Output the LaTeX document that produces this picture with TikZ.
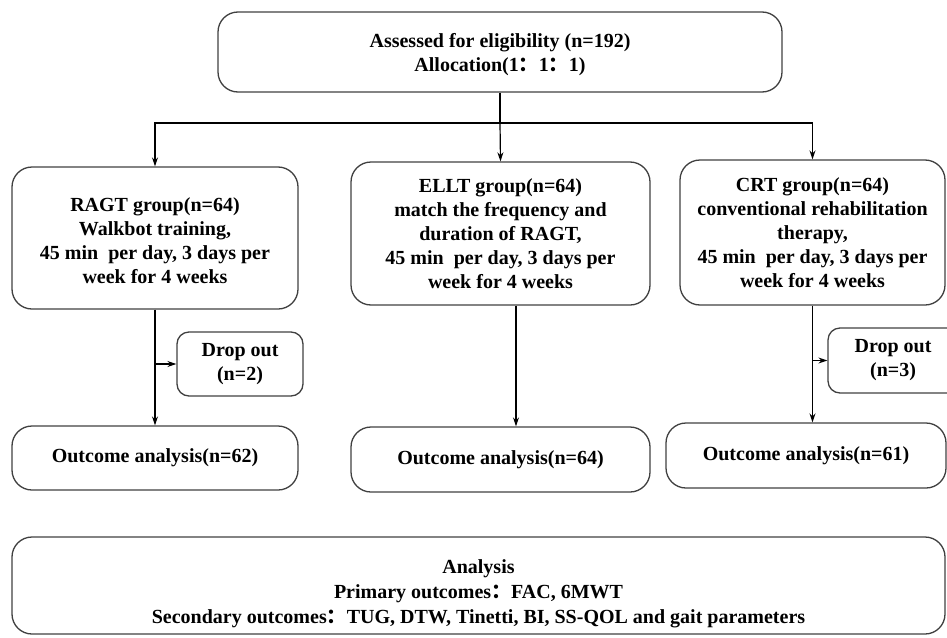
\documentclass[tikz,border=0pt]{standalone}
\usepackage{fontspec}
\setmainfont{Liberation Serif}
\newfontfamily\cjk{Noto Sans CJK SC}
\usetikzlibrary{positioning,arrows.meta}

\begin{document}
\begin{tikzpicture}[x=1pt,y=-1pt,
        box/.style={draw=black!75, line width=1.3pt, rounded corners=20pt, align=center, inner sep=0pt,
            font=\fontsize{20}{24}\selectfont\bfseries},
        dropbox/.style={box, rounded corners=12pt},
        arr/.style={-{Stealth[length=9pt,width=6pt]}, line width=1.2pt}]
        \useasboundingbox (0,0) rectangle (947,637);

        % Allocation
        \node[box, minimum width=564pt, minimum height=80pt] (assess) at (500,52)
            {\rule{0pt}{19pt}Assessed for eligibility (n=192)\\Allocation(1{\cjk：}1{\cjk：}1)};
        \coordinate (split) at (500,123);

        % Groups
        \node[box, minimum width=286pt, minimum height=142pt] (ragt) at (155,238)
            {\rule{0pt}{20pt}RAGT group(n=64)\\Walkbot training,\\45 min\ \ per day, 3 days per\\week for 4 weeks};
        \node[box, minimum width=299pt, minimum height=143pt] (ellt) at (500.5,233.5)
            {ELLT group(n=64)\\match the frequency and\\duration of RAGT,\\45 min\ \ per day, 3 days per\\week for 4 weeks};
        \node[box, minimum width=265pt, minimum height=145pt] (crt) at (812.5,232.5)
            {CRT group(n=64)\\conventional rehabilitation\\therapy,\\45 min\ \ per day, 3 days per\\week for 4 weeks};

        % Drop out
        \node[dropbox, minimum width=126pt, minimum height=64pt] (drop1) at (240,364) {Drop out\\(n=2)};
        \node[dropbox, minimum width=140pt, minimum height=65pt] (drop3) at (898,360.5) {\hspace*{-10pt}Drop out\\\hspace*{-10pt}(n=3)};

        % Outcomes
        \node[box, minimum width=286pt, minimum height=64pt] (out1) at (155,458) {Outcome analysis(n=62)};
        \node[box, minimum width=299pt, minimum height=65pt] (out2) at (500.5,459.5) {Outcome analysis(n=64)};
        \node[box, minimum width=280pt, minimum height=65pt] (out3) at (806,455.5) {Outcome analysis(n=61)};

        % Analysis
        \node[box, minimum width=933pt, minimum height=97pt, font=\fontsize{20}{25}\selectfont\bfseries] (analysis) at (478.5,585.5)
            {\rule{0pt}{30pt}Analysis\\Primary outcomes{\cjk：}FAC, 6MWT\\Secondary outcomes{\cjk：}TUG, DTW, Tinetti, BI, SS-QOL and gait parameters};

        % Connectors
        \draw[line width=1.2pt] (assess.south) -- (split);
        \draw[arr] (split) -| (ragt.north);
        \draw[arr] (split) -- (ellt.north);
        \draw[arr] (split) -| (crt.north);
        \draw[arr] (ragt) -- (out1);
        \draw[arr] (ragt.south |- drop1.west) -- (drop1.west);
        \draw[arr] ([xshift=15.5pt]ellt.south) -- ([xshift=15.5pt]out2.north);
        \draw[arr] (crt.south) -- (crt.south |- out3.north);
        \draw[arr] (crt.south |- drop3.west) -- (drop3.west);
    \end{tikzpicture}
\end{document}
